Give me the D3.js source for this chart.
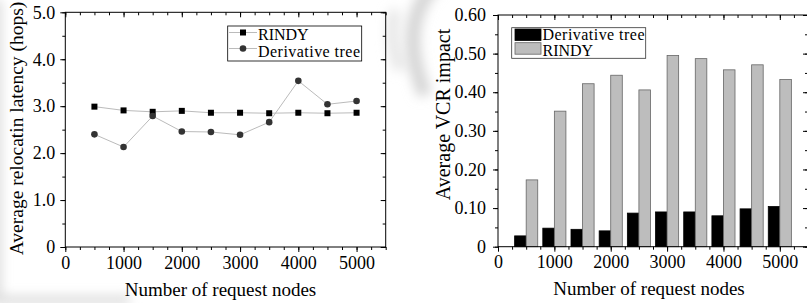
<!DOCTYPE html>
<html>
<head>
<meta charset="utf-8">
<script src="https://cdn.jsdelivr.net/npm/d3@7"></script>
<style>
  body { margin: 0; background: #fff; }
  text { font-family: "Liberation Serif", "Times New Roman", serif; fill: #000; }
</style>
</head>
<body>
<div id="chart"></div>
<script>
// data
var nodes = [500, 1000, 1500, 2000, 2500, 3000, 3500, 4000, 4500, 5000];
var latencyRindy = [2.99, 2.91, 2.88, 2.90, 2.86, 2.86, 2.85, 2.86, 2.85, 2.86];
var latencyTree = [2.40, 2.13, 2.79, 2.46, 2.45, 2.39, 2.66, 3.54, 3.04, 3.11];
var vcrTree = [0.028, 0.048, 0.045, 0.041, 0.087, 0.090, 0.090, 0.080, 0.098, 0.104];
var vcrRindy = [0.173, 0.351, 0.422, 0.444, 0.406, 0.495, 0.487, 0.458, 0.471, 0.433];

var xTicks = [0, 1000, 2000, 3000, 4000, 5000];
var latencyTicks = [0, 1, 2, 3, 4, 5];
var vcrTicks = [0, 0.1, 0.2, 0.3, 0.4, 0.5, 0.6];

var width = 807, height = 303;
var barW = 205;

var svg = d3.select("#chart")
    .append("svg")
    .attr("width", width)
    .attr("height", height);

// faint watermark shading from the scanned page
var defs = svg.append("defs");
defs.append("filter").attr("id", "blur").append("feGaussianBlur").attr("stdDeviation", 6);
var bg = svg.append("g").attr("filter", "url(#blur)").attr("fill", "none");
bg.append("path").attr("d", "M 440 -20 Q 395 20 425 95").attr("stroke", "#d4d4d4").attr("stroke-width", 14);
bg.append("path").attr("d", "M 395 10 Q 388 40 400 70").attr("stroke", "#e2e2e2").attr("stroke-width", 10);
bg.append("path").attr("d", "M -10 300 L 130 300").attr("stroke", "#d8d8d8").attr("stroke-width", 8);
bg.append("path").attr("d", "M -4 0 L -4 303").attr("stroke", "#d8d8d8").attr("stroke-width", 10);

// draws frame + ticks on all four sides
function frame(g, x, y, yTicks, yMinorStep, yFmt, labelGap) {
    var x0 = x.range()[0], x1 = x.range()[1], y0 = y.range()[0], y1 = y.range()[1];
    var xMinor = d3.range(0, x.domain()[1] + 1, 250);
    var yMinor = d3.range(0, y.domain()[1] + yMinorStep / 2, yMinorStep);

    // bottom (outward)
    g.append("g").attr("transform", "translate(0," + y0 + ")")
        .call(d3.axisBottom(x).tickValues(xMinor).tickSize(3).tickFormat(""));
    g.append("g").attr("transform", "translate(0," + y0 + ")")
        .call(d3.axisBottom(x).tickValues(xTicks).tickSize(5).tickPadding(4).tickFormat(d3.format("d")))
        .selectAll("text").attr("font-size", "18px");
    // top (inward)
    g.append("g").attr("transform", "translate(0," + y1 + ")")
        .call(d3.axisBottom(x).tickValues(xMinor).tickSize(3).tickFormat(""));
    g.append("g").attr("transform", "translate(0," + y1 + ")")
        .call(d3.axisBottom(x).tickValues(xTicks).tickSize(5).tickFormat(""));
    // left (outward)
    g.append("g").attr("transform", "translate(" + x0 + ",0)")
        .call(d3.axisLeft(y).tickValues(yMinor).tickSize(3).tickFormat(""));
    g.append("g").attr("transform", "translate(" + x0 + ",0)")
        .call(d3.axisLeft(y).tickValues(yTicks).tickSize(5).tickPadding(labelGap).tickFormat(yFmt))
        .selectAll("text").attr("font-size", "18px");
    // right (inward)
    g.append("g").attr("transform", "translate(" + x1 + ",0)")
        .call(d3.axisRight(y).tickValues(yMinor).tickSize(-3).tickFormat(""));
    g.append("g").attr("transform", "translate(" + x1 + ",0)")
        .call(d3.axisRight(y).tickValues(yTicks).tickSize(-5).tickFormat(""));

    g.selectAll(".domain").remove();
    g.selectAll(".tick line").attr("stroke", "#000");
    g.append("rect")
        .attr("x", x0).attr("y", y1)
        .attr("width", x1 - x0).attr("height", y0 - y1)
        .attr("fill", "none").attr("stroke", "#000").attr("stroke-width", 1);
    g.selectAll(".tick text").attr("font-family", "Liberation Serif");
}

// ---------- left: relocation latency ----------
var xL = d3.scaleLinear().domain([0, 5500]).range([65.3, 385.7]);
var yL = d3.scaleLinear().domain([0, 5]).range([247, 12.3]);
var gL = svg.append("g");

frame(gL, xL, yL, latencyTicks, 0.5, function(d) { return d === 0 ? "0" : d3.format(".1f")(d); }, 5);

var lineL = function(vals) {
    return d3.line().x(function(d, i) { return xL(nodes[i]); }).y(function(d) { return yL(d); })(vals);
};
gL.append("path").attr("d", lineL(latencyRindy)).attr("fill", "none").attr("stroke", "#bbb").attr("stroke-width", 1);
gL.append("path").attr("d", lineL(latencyTree)).attr("fill", "none").attr("stroke", "#bbb").attr("stroke-width", 1);

gL.selectAll("rect.sq").data(latencyRindy).enter().append("rect")
    .attr("class", "sq")
    .attr("x", function(d, i) { return xL(nodes[i]) - 3; })
    .attr("y", function(d) { return yL(d) - 3; })
    .attr("width", 6).attr("height", 6)
    .attr("fill", "#000");
gL.selectAll("circle.dot").data(latencyTree).enter().append("circle")
    .attr("class", "dot")
    .attr("cx", function(d, i) { return xL(nodes[i]); })
    .attr("cy", function(d) { return yL(d); })
    .attr("r", 3.3)
    .attr("fill", "#333");

// legend
var legL = gL.append("g");
legL.append("rect").attr("x", 227.7).attr("y", 26).attr("width", 134).attr("height", 35)
    .attr("fill", "#fff").attr("stroke", "#000").attr("stroke-width", 0.8);
legL.append("line").attr("x1", 229).attr("x2", 257).attr("y1", 32.5).attr("y2", 32.5).attr("stroke", "#bbb");
legL.append("line").attr("x1", 229).attr("x2", 257).attr("y1", 48.5).attr("y2", 48.5).attr("stroke", "#bbb");
legL.append("rect").attr("x", 240).attr("y", 29.5).attr("width", 6).attr("height", 6).attr("fill", "#000");
legL.append("circle").attr("cx", 243).attr("cy", 48.5).attr("r", 3.3).attr("fill", "#333");
legL.append("text").attr("x", 258).attr("y", 39.5).attr("font-size", "16px").text("RINDY");
legL.append("text").attr("x", 258).attr("y", 56.5).attr("font-size", "16px").attr("textLength", 102).text("Derivative tree");

gL.append("text").attr("x", 220.5).attr("y", 296).attr("text-anchor", "middle")
    .attr("font-size", "19px").text("Number of request nodes");
gL.append("text").attr("transform", "translate(23,128.5) rotate(-90)").attr("text-anchor", "middle")
    .attr("font-size", "19.5px").text("Average relocatin latency (hops)");

// ---------- right: VCR impact ----------
var xR = d3.scaleLinear().domain([0, 5500]).range([498, 808]);
var yR = d3.scaleLinear().domain([0, 0.6]).range([246.7, 15]);
var gR = svg.append("g");

gR.selectAll("rect.tree").data(vcrTree).enter().append("rect")
    .attr("class", "tree")
    .attr("x", function(d, i) { return xR(nodes[i] - barW); })
    .attr("y", function(d) { return yR(d); })
    .attr("width", function(d, i) { return xR(nodes[i]) - xR(nodes[i] - barW); })
    .attr("height", function(d) { return yR(0) - yR(d); })
    .attr("fill", "#000").attr("stroke", "#000").attr("stroke-width", 0.8);
gR.selectAll("rect.rindy").data(vcrRindy).enter().append("rect")
    .attr("class", "rindy")
    .attr("x", function(d, i) { return xR(nodes[i]); })
    .attr("y", function(d) { return yR(d); })
    .attr("width", function(d, i) { return xR(nodes[i] + barW) - xR(nodes[i]); })
    .attr("height", function(d) { return yR(0) - yR(d); })
    .attr("fill", "#bdbdbd").attr("stroke", "#666").attr("stroke-width", 0.8);

frame(gR, xR, yR, vcrTicks, 0.05, function(d) { return d === 0 ? "0" : d3.format(".2f")(d); }, 7);

var legR = gR.append("g");
legR.append("rect").attr("x", 511.7).attr("y", 27.7).attr("width", 134).attr("height", 30.6)
    .attr("fill", "#fff").attr("stroke", "#333").attr("stroke-width", 0.8);
legR.append("rect").attr("x", 515).attr("y", 29).attr("width", 26).attr("height", 11.5)
    .attr("fill", "#000").attr("stroke", "#000").attr("stroke-width", 0.8);
legR.append("rect").attr("x", 515).attr("y", 42.7).attr("width", 26).attr("height", 11.5)
    .attr("fill", "#bdbdbd").attr("stroke", "#666").attr("stroke-width", 0.8);
legR.append("text").attr("x", 542.5).attr("y", 40).attr("font-size", "16px").attr("textLength", 102).text("Derivative tree");
legR.append("text").attr("x", 542.5).attr("y", 56).attr("font-size", "16px").text("RINDY");

gR.append("text").attr("x", 649).attr("y", 295).attr("text-anchor", "middle")
    .attr("font-size", "19px").text("Number of request nodes");
gR.append("text").attr("transform", "translate(450,114.5) rotate(-90)").attr("text-anchor", "middle")
    .attr("font-size", "20px").text("Average VCR impact");
</script>
</body>
</html>
